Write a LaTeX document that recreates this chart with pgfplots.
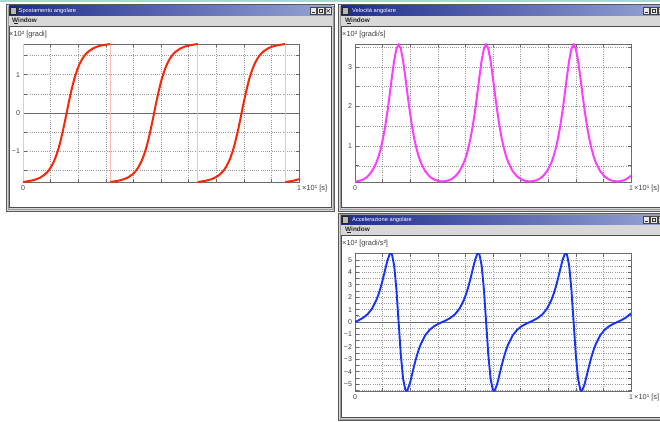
\documentclass[border=0pt]{standalone}
\usepackage{fontspec}
\setmainfont{Liberation Sans}
\usepackage{pgfplots}
\usepackage{pgfplotstable}
\pgfplotsset{compat=1.18}
\definecolor{dispc}{RGB}{250,38,8}
\definecolor{pinkc}{RGB}{255,190,182}
\definecolor{velc}{RGB}{255,60,255}
\definecolor{accc}{RGB}{22,50,255}
\definecolor{tbl}{RGB}{30,44,140}
\definecolor{tbr}{RGB}{150,164,212}
\definecolor{wing}{RGB}{214,214,214}
\definecolor{winb}{RGB}{90,90,90}
\definecolor{menuc}{RGB}{216,216,216}
\definecolor{topc}{RGB}{170,214,214}

% angle, one table per period (x in 10 s, y in 100 degrees)
\pgfplotstableread{
x y
0.0000 -1.800
0.0134 -1.7855
0.0295 -1.7647
0.0456 -1.7348
0.0616 -1.6885
0.0777 -1.6123
0.0857 -1.5593
0.0938 -1.4917
0.1018 -1.4058
0.1098 -1.2967
0.1179 -1.1606
0.1259 -0.9920
0.1297 -0.9000
0.1339 -0.7887
0.1419 -0.5504
0.1500 -0.2835
0.1580 0.0000
0.1660 0.2835
0.1741 0.5504
0.1821 0.7887
0.1863 0.9000
0.1901 0.9920
0.1982 1.1606
0.2062 1.2967
0.2142 1.4058
0.2223 1.4917
0.2303 1.5593
0.2383 1.6123
0.2544 1.6885
0.2704 1.7348
0.2865 1.7647
0.3026 1.7855
0.3165 1.8000
}\angA
\pgfplotstableread{
x y
0.3165 -1.800
0.3304 -1.7855
0.3465 -1.7647
0.3626 -1.7348
0.3786 -1.6885
0.3947 -1.6123
0.4027 -1.5593
0.4108 -1.4917
0.4188 -1.4058
0.4268 -1.2967
0.4349 -1.1606
0.4429 -0.9920
0.4467 -0.9000
0.4509 -0.7887
0.4589 -0.5504
0.4670 -0.2835
0.4750 0.0000
0.4830 0.2835
0.4911 0.5504
0.4991 0.7887
0.5033 0.9000
0.5071 0.9920
0.5152 1.1606
0.5232 1.2967
0.5312 1.4058
0.5393 1.4917
0.5473 1.5593
0.5553 1.6123
0.5714 1.6885
0.5874 1.7348
0.6035 1.7647
0.6196 1.7855
0.6335 1.8000
}\angB
\pgfplotstableread{
x y
0.6335 -1.800
0.6474 -1.7855
0.6635 -1.7647
0.6796 -1.7348
0.6956 -1.6885
0.7117 -1.6123
0.7197 -1.5593
0.7278 -1.4917
0.7358 -1.4058
0.7438 -1.2967
0.7519 -1.1606
0.7599 -0.9920
0.7637 -0.9000
0.7679 -0.7887
0.7759 -0.5504
0.7840 -0.2835
0.7920 0.0000
0.8000 0.2835
0.8081 0.5504
0.8161 0.7887
0.8203 0.9000
0.8241 0.9920
0.8322 1.1606
0.8402 1.2967
0.8482 1.4058
0.8563 1.4917
0.8643 1.5593
0.8723 1.6123
0.8884 1.6885
0.9044 1.7348
0.9205 1.7647
0.9366 1.7855
0.9505 1.8000
}\angC
\pgfplotstableread{
x y
0.9505 -1.800
0.9644 -1.7855
0.9805 -1.7647
0.9966 -1.7348
1.0000 -1.7250
}\angD

% angular velocity (100 deg/s)
\pgfplotstableread{
x y
0.0000 0.104
0.0134 0.113
0.0295 0.151
0.0456 0.228
0.0616 0.362
0.0777 0.586
0.0857 0.744
0.0938 0.948
0.1018 1.204
0.1098 1.516
0.1179 1.889
0.1259 2.312
0.1297 2.522
0.1339 2.755
0.1419 3.163
0.1500 3.458
0.1580 3.567
0.1660 3.458
0.1741 3.163
0.1821 2.755
0.1863 2.522
0.1901 2.312
0.1982 1.889
0.2062 1.516
0.2142 1.204
0.2223 0.948
0.2303 0.744
0.2383 0.586
0.2544 0.362
0.2704 0.228
0.2865 0.151
0.3026 0.113
0.3165 0.104
0.3304 0.113
0.3465 0.151
0.3626 0.228
0.3786 0.362
0.3947 0.586
0.4027 0.744
0.4108 0.948
0.4188 1.204
0.4268 1.516
0.4349 1.889
0.4429 2.312
0.4467 2.522
0.4509 2.755
0.4589 3.163
0.4670 3.458
0.4750 3.567
0.4830 3.458
0.4911 3.163
0.4991 2.755
0.5033 2.522
0.5071 2.312
0.5152 1.889
0.5232 1.516
0.5312 1.204
0.5393 0.948
0.5473 0.744
0.5553 0.586
0.5714 0.362
0.5874 0.228
0.6035 0.151
0.6196 0.113
0.6335 0.104
0.6474 0.113
0.6635 0.151
0.6796 0.228
0.6956 0.362
0.7117 0.586
0.7197 0.744
0.7278 0.948
0.7358 1.204
0.7438 1.516
0.7519 1.889
0.7599 2.312
0.7637 2.522
0.7679 2.755
0.7759 3.163
0.7840 3.458
0.7920 3.567
0.8000 3.458
0.8081 3.163
0.8161 2.755
0.8203 2.522
0.8241 2.312
0.8322 1.889
0.8402 1.516
0.8482 1.204
0.8563 0.948
0.8643 0.744
0.8723 0.586
0.8884 0.362
0.9044 0.228
0.9205 0.151
0.9366 0.113
0.9505 0.104
0.9644 0.113
0.9805 0.151
0.9966 0.228
1.0000 0.251
}\vel

% angular acceleration (100 deg/s^2)
\pgfplotstableread{
x y
0.0000 0.000
0.0134 0.140
0.0295 0.342
0.0456 0.630
0.0616 1.073
0.0777 1.786
0.0857 2.263
0.0938 2.844
0.1018 3.526
0.1098 4.271
0.1179 4.986
0.1259 5.479
0.1297 5.550
0.1339 5.445
0.1419 4.549
0.1500 2.635
0.1580 0.000
0.1660 -2.635
0.1741 -4.549
0.1821 -5.445
0.1863 -5.550
0.1901 -5.479
0.1982 -4.986
0.2062 -4.271
0.2142 -3.526
0.2223 -2.844
0.2303 -2.263
0.2383 -1.786
0.2544 -1.073
0.2704 -0.630
0.2865 -0.342
0.3026 -0.140
0.3165 0.000
0.3304 0.140
0.3465 0.342
0.3626 0.630
0.3786 1.073
0.3947 1.786
0.4027 2.263
0.4108 2.844
0.4188 3.526
0.4268 4.271
0.4349 4.986
0.4429 5.479
0.4467 5.550
0.4509 5.445
0.4589 4.549
0.4670 2.635
0.4750 0.000
0.4830 -2.635
0.4911 -4.549
0.4991 -5.445
0.5033 -5.550
0.5071 -5.479
0.5152 -4.986
0.5232 -4.271
0.5312 -3.526
0.5393 -2.844
0.5473 -2.263
0.5553 -1.786
0.5714 -1.073
0.5874 -0.630
0.6035 -0.342
0.6196 -0.140
0.6335 0.000
0.6474 0.140
0.6635 0.342
0.6796 0.630
0.6956 1.073
0.7117 1.786
0.7197 2.263
0.7278 2.844
0.7358 3.526
0.7438 4.271
0.7519 4.986
0.7599 5.479
0.7637 5.550
0.7679 5.445
0.7759 4.549
0.7840 2.635
0.7920 0.000
0.8000 -2.635
0.8081 -4.549
0.8161 -5.445
0.8203 -5.550
0.8241 -5.479
0.8322 -4.986
0.8402 -4.271
0.8482 -3.526
0.8563 -2.844
0.8643 -2.263
0.8723 -1.786
0.8884 -1.073
0.9044 -0.630
0.9205 -0.342
0.9366 -0.140
0.9505 0.000
0.9644 0.140
0.9805 0.342
0.9966 0.630
1.0000 0.710
}\acc

\pgfplotsset{
  win/.style={
    scale only axis, width=276pt, height=138pt, anchor=south west,
    xmin=0, xmax=1,
    xtick={0,0.1,0.2,0.3,0.4,0.5,0.6,0.7,0.8,0.9,1},
    xticklabels={0,{},{},{},{},{},{},{},{},{},1},
    grid=major,
    major grid style={draw=gray!80, line width=0.55pt, dash pattern=on 0.8pt off 1.4pt},
    axis line style={draw=gray!85!black, line width=0.9pt},
    tick style={draw=gray!80!black, line width=0.6pt},
    major tick length=3.5pt,
    tick label style={font=\fontsize{7}{8}\selectfont, text=black!75},
    yticklabel style={xshift=0.5pt},
    xticklabel style={yshift=-0.3pt},
    axis background/.style={fill=white},
  },
  zeroline/.style={
    extra y ticks={0}, extra y tick labels={0},
    extra y tick style={major grid style={solid, draw=gray!85!black, line width=0.7pt}},
  }
}

\newcommand\winbtns[2]{% x of first button, y-bottom (tikz)
  \foreach \k in {0,1,2}{
    \filldraw[fill=gray!18, draw=gray!55!black, line width=0.4pt]
      ({#1+\k*7.5},#2) rectangle ({#1+\k*7.5+6.5},{#2+6.5});
  }
  \draw[black!80, line width=0.6pt] ({#1+1.5},{#2+1.5}) -- ({#1+4.5},{#2+1.5});
  \draw[black!80, line width=0.5pt] ({#1+7.5+1.6},{#2+1.4}) rectangle ({#1+7.5+4.9},{#2+4.9});
  \draw[black!80, line width=0.5pt] ({#1+15+1.6},{#2+1.6}) -- ({#1+15+4.9},{#2+4.9})
                                 ({#1+15+1.6},{#2+4.9}) -- ({#1+15+4.9},{#2+1.6});
}
\newcommand\menuW{\textbf{W\kern-0.62em\raisebox{-0.9pt}{\rule{0.62em}{0.35pt}}indow}}

\begin{document}
\begin{tikzpicture}[x=1pt,y=1pt]
\path[use as bounding box, fill=white] (0,0) rectangle (660,421);
\fill[topc] (0,419.3) rectangle (660,421);

% ---------- window 1 ----------
\filldraw[fill=wing, draw=winb, line width=1pt] (6.5,210) rectangle (334.5,416.5);
\draw[winb!60, line width=0.5pt] (8,211.5) rectangle (333,415);
\shade[left color=tbl, right color=tbr] (9,405.5) rectangle (332,415);
\filldraw[fill=gray!55, draw=gray!30!black, line width=0.4pt] (10.5,407) rectangle (16,413.5);
\node[anchor=west, text=white, font=\fontsize{5.7}{6}\selectfont, inner sep=0pt] at (18.5,410.3) {Spostamento angolare};
\winbtns{310}{407}
\fill[menuc] (9,395.5) rectangle (332,405);
\node[anchor=west, font=\fontsize{6.4}{7}\selectfont, inner sep=0pt, text=black!85] at (12,400.2) {\menuW};
\filldraw[fill=white, draw=gray!60!black, line width=0.6pt] (9.5,213.5) rectangle (331.5,395);

% ---------- window 2 ----------
\filldraw[fill=wing, draw=winb, line width=1pt] (338.5,210) rectangle (668,416.5);
\draw[winb!60, line width=0.5pt] (340,211.5) rectangle (668,415);
\shade[left color=tbl, right color=tbr] (341,405.5) rectangle (668,415);
\filldraw[fill=gray!55, draw=gray!30!black, line width=0.4pt] (342.5,407) rectangle (348,413.5);
\node[anchor=west, text=white, font=\fontsize{5.7}{6}\selectfont, inner sep=0pt] at (352,410.3) {Velocità angolare};
\winbtns{643}{407}
\fill[menuc] (341,395.5) rectangle (668,405);
\node[anchor=west, font=\fontsize{6.4}{7}\selectfont, inner sep=0pt, text=black!85] at (345,400.2) {\menuW};
\filldraw[fill=white, draw=gray!60!black, line width=0.6pt] (341.5,213.5) rectangle (668,395);

% ---------- window 3 ----------
\filldraw[fill=wing, draw=winb, line width=1pt] (338.5,0.5) rectangle (668,208);
\draw[winb!60, line width=0.5pt] (340,2) rectangle (668,206.5);
\shade[left color=tbl, right color=tbr] (341,196.5) rectangle (668,206);
\filldraw[fill=gray!55, draw=gray!30!black, line width=0.4pt] (342.5,198) rectangle (348,204.5);
\node[anchor=west, text=white, font=\fontsize{5.7}{6}\selectfont, inner sep=0pt] at (352,201.3) {Accelerazione angolare};
\winbtns{643}{198}
\fill[menuc] (341,186.5) rectangle (668,196);
\node[anchor=west, font=\fontsize{6.4}{7}\selectfont, inner sep=0pt, text=black!85] at (345,191.2) {\menuW};
\filldraw[fill=white, draw=gray!60!black, line width=0.6pt] (341.5,4) rectangle (668,186);

% ---------- labels ----------
\begin{scope}[font=\fontsize{7.4}{8}\selectfont, text=black!75, inner sep=0pt]
\node[anchor=west] at (9,386) {×10² [gradi]};
\node[anchor=west] at (342,386) {×10² [gradi/s]};
\node[anchor=west] at (342,177) {×10² [gradi/s²]};
\node[anchor=west] at (302,232) {×10¹ [s]};
\node[anchor=west] at (634,232) {×10¹ [s]};
\node[anchor=west] at (634,23) {×10¹ [s]};
\end{scope}

% ---------- plot 1: angle ----------
\begin{axis}[win, zeroline, at={(23pt,239pt)},
  ymin=-1.8, ymax=1.8,
  ytick={-1.5,-1,-0.5,0.5,1,1.5},
  yticklabels={{},−1,{},{},1,{}}]
\addplot[pinkc, line width=0.9pt] coordinates {(0,1.8) (0,-1.8)};
\addplot[pinkc, line width=0.9pt] coordinates {(0.3165,1.8) (0.3165,-1.8)};
\addplot[pinkc, line width=0.9pt] coordinates {(0.6335,1.8) (0.6335,-1.8)};
\addplot[pinkc, line width=0.9pt] coordinates {(0.9505,1.8) (0.9505,-1.8)};
\addplot[dispc, line width=2pt] table[x=x,y=y] {\angA};
\addplot[dispc, line width=2pt] table[x=x,y=y] {\angB};
\addplot[dispc, line width=2pt] table[x=x,y=y] {\angC};
\addplot[dispc, line width=2pt] table[x=x,y=y] {\angD};
\end{axis}

% ---------- plot 2: velocity ----------
\begin{axis}[win, at={(355pt,239pt)},
  ymin=0.09, ymax=3.58,
  ytick={0.5,1,1.5,2,2.5,3,3.5},
  yticklabels={{},1,{},2,{},3,{}}]
\addplot[velc, line width=2pt] table[x=x,y=y] {\vel};
\end{axis}

% ---------- plot 3: acceleration ----------
\begin{axis}[win, zeroline, at={(355pt,30pt)},
  ymin=-5.56, ymax=5.56,
  ytick={-5.5,-5,-4.5,-4,-3.5,-3,-2.5,-2,-1.5,-1,-0.5,0.5,1,1.5,2,2.5,3,3.5,4,4.5,5,5.5},
  yticklabels={{},−5,{},−4,{},−3,{},−2,{},−1,{},{},1,{},2,{},3,{},4,{},5,{}}]
\addplot[accc, line width=1.9pt] table[x=x,y=y] {\acc};
\end{axis}
\end{tikzpicture}
\end{document}
